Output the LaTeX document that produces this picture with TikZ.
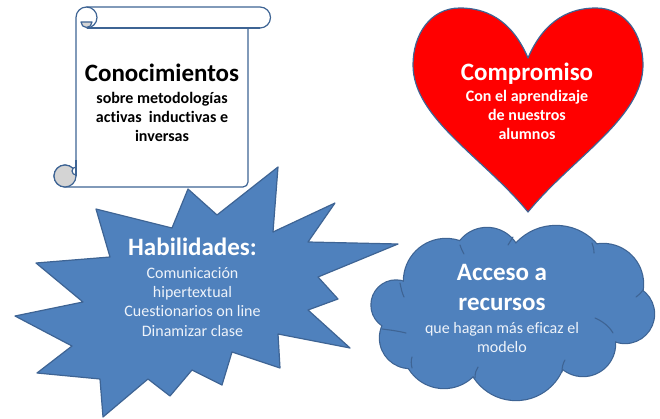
\documentclass[tikz,border=0pt]{standalone}
\usepackage{fontspec}
\setmainfont{Carlito}[Ligatures=NoCommon]
\definecolor{oblue}{HTML}{4F81BD}
\definecolor{oline}{HTML}{3E6494}
\definecolor{curlgray}{HTML}{D4D4D4}
\definecolor{subwhite}{HTML}{EEF3FA}
\begin{document}
\begin{tikzpicture}[x=1pt,y=-1pt,
  shapeline/.style={draw=oline, line width=1.2pt, line join=round},
  puffline/.style={draw=oline, line width=2.4pt, fill=oblue},
  innerarc/.style={draw=oline, line width=1.1pt, line cap=round},
  titletext/.style={font=\fontsize{25}{30}\selectfont\bfseries, anchor=base, inner sep=0pt},
  subbold/.style={font=\fontsize{16}{19.3}\selectfont\bfseries, align=center, anchor=base, inner sep=0pt},
  subreg/.style={font=\fontsize{16}{19.3}\selectfont, align=center, anchor=base, inner sep=0pt}]
\useasboundingbox (0,0) rectangle (660,419);

% ---- scroll ----
\draw[shapeline, fill=white] (76,176) -- (76,17.5)
  arc[start angle=180, end angle=270, radius=10.5] -- (260,7)
  arc[start angle=270, end angle=450, radius=10.5] -- (248,28) -- (248,182)
  arc[start angle=0, end angle=90, radius=5] -- (65,187)
  arc[start angle=90, end angle=360, radius=11] -- cycle;
\draw[shapeline] (260,28) -- (86.5,28);
\draw[shapeline] (86.5,7) arc[start angle=270, end angle=450, radius=10.5];
\filldraw[shapeline, fill=curlgray] (81,22) arc[start angle=180, end angle=0, radius=5.5] -- cycle;
\filldraw[shapeline, fill=curlgray] (65,176) circle[radius=11];
\filldraw[shapeline, fill=white] (76,167) arc[start angle=270, end angle=90, radius=4] -- cycle;
\draw[shapeline] (76,160) -- (76,176);
\node[titletext] (con) at (162,82) {Conocimientos};
\node[subbold] (consub) at (162,141.7) {sobre metodologías\\activas\ \ inductivas e\\inversas};

% ---- heart ----
\draw[shapeline, fill=red] (528,58) .. controls (545,18) and (572,8) .. (596,8)
  .. controls (626,8) and (643,35) .. (643,65)
  .. controls (643,118) and (572,158) .. (528,212)
  .. controls (484,158) and (413,118) .. (413,65)
  .. controls (413,35) and (430,8) .. (460,8)
  .. controls (484,8) and (511,18) .. (528,58) -- cycle;
\node[titletext, text=white] (com) at (527,81) {Compromiso};
\node[subbold, text=white] (comsub) at (527,140) {Con el aprendizaje\\de nuestros\\alumnos};

% ---- explosion ----
\draw[shapeline, fill=oblue] (188,189) -- (217,215) -- (278,167) -- (273,232) -- (335,203)
  -- (308,242) -- (398,244) -- (318,277) -- (338,299) -- (308,310) -- (350,348)
  -- (278,334) -- (280,368) -- (232,352) -- (222,385) -- (192,370) -- (170,396)
  -- (148,379) -- (103,417) -- (100,379) -- (37,373) -- (72,346) -- (15,316)
  -- (83,302) -- (36,263) -- (110,257) -- (96,209) -- (172,228) -- cycle;
\node[titletext, text=white] (hab) at (192.5,255) {Habilidades:};
\node[subreg, text=subwhite] (habsub) at (192.5,336) {Comunicación\\hipertextual\\Cuestionarios on line\\Dinamizar clase};

% ---- cloud (union of puffs) ----
\draw[puffline] (396,305) circle[radius=24.5];
\draw[puffline] (446,281) circle[radius=42];
\draw[puffline] (487,262) circle[radius=34];
\draw[puffline] (556,280) circle[radius=54];
\draw[puffline] (603,284) circle[radius=40];
\draw[puffline] (625,314) circle[radius=29];
\draw[puffline] (583,344) circle[radius=32];
\draw[puffline] (516,350) circle[radius=50];
\draw[puffline] (444,347) circle[radius=41];
\draw[puffline] (410,338) circle[radius=30];
\fill[oblue] (396,305) circle[radius=24.5] (446,281) circle[radius=42] (487,262) circle[radius=34]
  (556,280) circle[radius=54] (603,284) circle[radius=40] (625,314) circle[radius=29]
  (583,344) circle[radius=32] (516,350) circle[radius=50] (444,347) circle[radius=41]
  (410,338) circle[radius=30] (515,312) ellipse[x radius=105, y radius=55];
\draw[innerarc] (400,283) .. controls (401,288) and (402,293) .. (404,297);
\draw[innerarc] (460,245) .. controls (461,248) and (462,251) .. (464,254);
\draw[innerarc] (513,237) .. controls (511,240) and (510,242) .. (508,245);
\draw[innerarc] (592,243) .. controls (593,246) and (594,249) .. (594,253);
\draw[innerarc] (643,290) .. controls (641,293) and (639,295) .. (636,297);
\draw[innerarc] (595,318) .. controls (602,321) and (609,326) .. (613,333);
\draw[innerarc] (562,372) .. controls (562,367) and (563,363) .. (565,360);
\draw[innerarc] (475,378) .. controls (475,373) and (476,370) .. (478,367);
\draw[innerarc] (412,368) .. controls (411,364) and (411,360) .. (412,357);
\draw[innerarc] (382,329) .. controls (390,330) and (398,331) .. (406,333);
\node[titletext, text=white] (acct) at (502,280.7) {Acceso a};
\node[titletext, text=white] (acct2) at (502,310.7) {recursos};
\node[subreg, text=subwhite] (accsub) at (502,352.7) {que hagan más eficaz el\\modelo};
\end{tikzpicture}
\end{document}
